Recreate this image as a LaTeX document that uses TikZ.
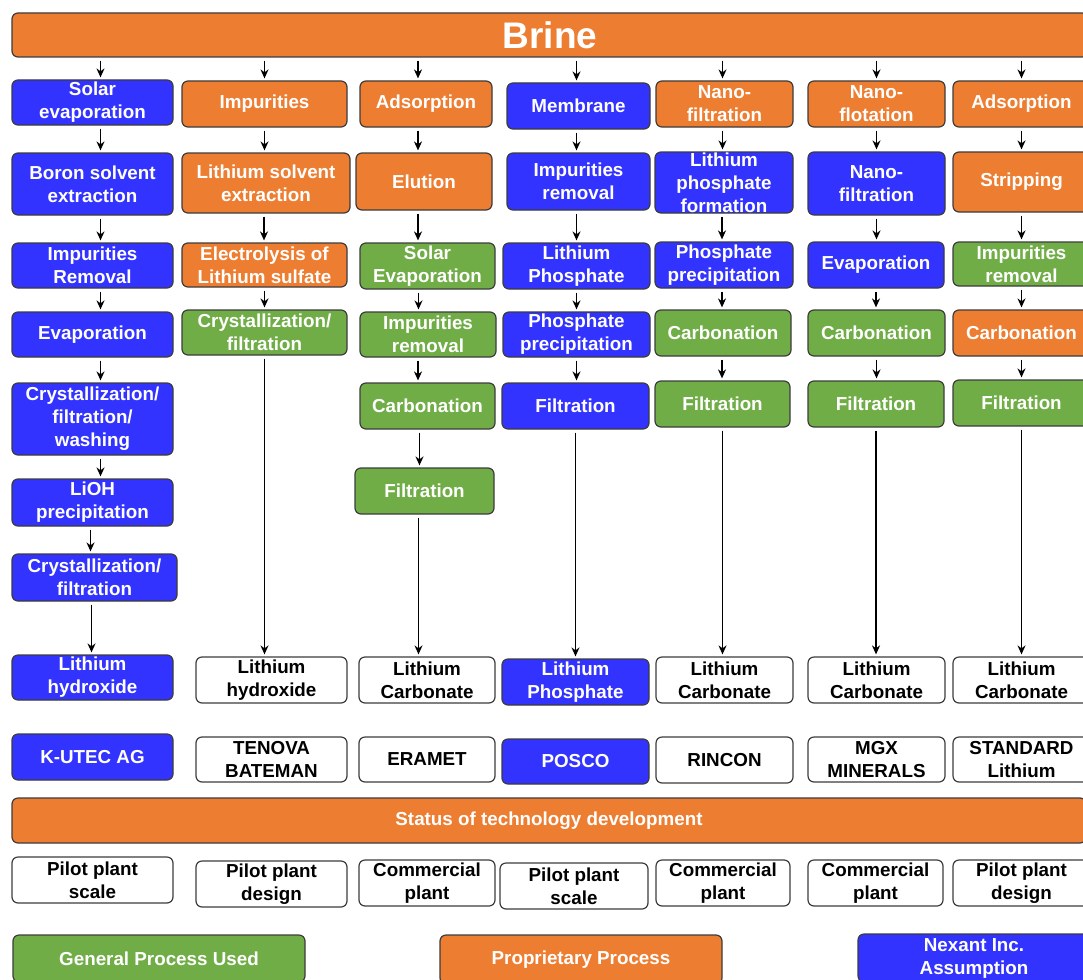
\documentclass[tikz,border=0pt]{standalone}
\usepackage{fontspec}
\setmainfont{Liberation Sans}
\usetikzlibrary{arrows.meta}
\definecolor{cor}{HTML}{ED7D31}
\definecolor{cbl}{HTML}{3333FF}
\definecolor{cgr}{HTML}{70AD47}
\definecolor{cbd}{HTML}{3C3C3C}
\tikzset{
  box/.style={draw=cbd, line width=1.2pt, rounded corners=6pt, inner sep=0pt, align=center,
    text=white, font=\bfseries\fontsize{18.8}{23}\selectfont},
  org/.style={fill=cor},
  blu/.style={fill=cbl},
  grn/.style={fill=cgr},
  wht/.style={fill=white, text=black},
  arr/.style={-{Stealth[length=9pt,width=8pt]}, line width=1.8pt, black, shorten >=2pt, shorten <=3pt},
}
\newcommand\B[7]{%
  \pgfmathsetmacro\bcx{(#2+#4)/2}\pgfmathsetmacro\bcy{(#3+#5)/2}%
  \pgfmathsetmacro\bxw{#4-#2}\pgfmathsetmacro\bxh{#5-#3}%
  \node[box,#6,minimum width=\bxw pt,minimum height=\bxh pt] (#1) at (\bcx,\bcy) {#7};}
\newcommand\Ar[3]{\draw[arr] ([xshift=#3pt]#1.south) -- ([xshift=#3pt]#1.south |- #2.north);}
\newcommand\Br[2]{\draw[arr] ([xshift=#2pt]#1.north |- brine.south) -- ([xshift=#2pt]#1.north);}
\begin{document}
\begin{tikzpicture}[x=1pt,y=-1pt]
\useasboundingbox (0,0) rectangle (1083,979);
\clip (0,0) rectangle (1083,979);
\fill[white] (0,0) rectangle (1083,979);

\B{brine}{12}{13}{1088}{57}{org,font=\bfseries\fontsize{37}{42}\selectfont}{Brine}

% column 1
\B{a1}{12}{80}{173}{125}{blu}{Solar\\evaporation}
\B{b1}{12}{153}{173}{215}{blu}{Boron solvent\\extraction}
\B{c1}{12}{243}{173}{288}{blu}{Impurities\\Removal}
\B{d1}{12}{312}{173}{357}{blu}{Evaporation}
\B{e1}{12}{383}{173}{455}{blu}{Crystallization/\\filtration/\\washing}
\B{f1}{12}{479}{173}{526}{blu}{LiOH\\precipitation}
\B{g1}{12}{554}{177}{601}{blu}{Crystallization/\\filtration}
\B{p1}{12}{655}{173}{700}{blu}{Lithium\\hydroxide}
\B{k1}{12}{734}{173}{780}{blu}{K-UTEC AG}

% column 2
\B{a2}{182}{81}{347}{127}{org}{Impurities}
\B{b2}{182}{153}{350}{213}{org}{Lithium solvent\\extraction}
\B{c2}{182}{243}{347}{287}{org}{Electrolysis of\\Lithium sulfate}
\B{d2}{182}{310}{347}{355}{grn}{Crystallization/\\filtration}
\B{p2}{196}{657}{347}{703}{wht}{Lithium\\hydroxide}
\B{k2}{196}{737}{347}{782}{wht}{TENOVA\\BATEMAN}

% column 3
\B{a3}{360}{81}{492}{127}{org}{Adsorption}
\B{b3}{356}{153}{492}{210}{org}{Elution}
\B{c3}{360}{243}{495}{289}{grn}{Solar\\Evaporation}
\B{d3}{360}{312}{496}{357}{grn}{Impurities\\removal}
\B{e3}{360}{383}{495}{429}{grn}{Carbonation}
\B{f3}{355}{468}{494}{514}{grn}{Filtration}
\B{p3}{359}{657}{495}{703}{wht}{Lithium\\Carbonate}
\B{k3}{359}{737}{495}{782}{wht}{ERAMET}

% column 4
\B{a4}{507}{83}{650}{129}{blu}{Membrane}
\B{b4}{507}{153}{650}{210}{blu}{Impurities\\removal}
\B{c4}{503}{243}{650}{289}{blu}{Lithium\\Phosphate}
\B{d4}{503}{312}{650}{357}{blu}{Phosphate\\precipitation}
\B{e4}{502}{383}{649}{429}{blu}{Filtration}
\B{p4}{502}{659}{649}{705}{blu}{Lithium\\Phosphate}
\B{k4}{502}{739}{649}{784}{blu}{POSCO}

% column 5
\B{a5}{656}{81}{793}{127}{org}{Nano-\\filtration}
\B{b5}{655}{152}{793}{213}{blu}{Lithium\\phosphate\\formation}
\B{c5}{655}{242}{793}{288}{blu}{Phosphate\\precipitation}
\B{d5}{655}{310}{791}{356}{grn}{Carbonation}
\B{e5}{655}{381}{790}{427}{grn}{Filtration}
\B{p5}{656}{657}{793}{703}{wht}{Lithium\\Carbonate}
\B{k5}{656}{737}{793}{783}{wht}{RINCON}

% column 6
\B{a6}{808}{81}{945}{127}{org}{Nano-\\flotation}
\B{b6}{808}{152}{945}{215}{blu}{Nano-\\filtration}
\B{c6}{808}{242}{944}{288}{blu}{Evaporation}
\B{d6}{808}{310}{945}{356}{grn}{Carbonation}
\B{e6}{808}{381}{944}{427}{grn}{Filtration}
\B{p6}{808}{657}{945}{703}{wht}{Lithium\\Carbonate}
\B{k6}{808}{737}{945}{782}{wht}{MGX\\MINERALS}

% column 7
\B{a7}{953}{81}{1090}{127}{org}{Adsorption}
\B{b7}{953}{152}{1090}{212}{org}{Stripping}
\B{c7}{953}{242}{1090}{286}{grn}{Impurities\\removal}
\B{d7}{953}{310}{1090}{356}{org}{Carbonation}
\B{e7}{953}{380}{1090}{426}{grn}{Filtration}
\B{p7}{953}{657}{1090}{703}{wht}{Lithium\\Carbonate}
\B{k7}{953}{737}{1090}{782}{wht}{STANDARD\\Lithium}

% status
\B{status}{12}{798}{1086}{843}{org}{Status of technology development}
\B{s1}{12}{857}{173}{903}{wht}{Pilot plant\\scale}
\B{s2}{196}{861}{347}{907}{wht}{Pilot plant\\design}
\B{s3}{359}{860}{495}{906}{wht}{Commercial\\plant}
\B{s4}{500}{863}{648}{909}{wht}{Pilot plant\\scale}
\B{s5}{656}{860}{790}{906}{wht}{Commercial\\plant}
\B{s6}{808}{860}{943}{906}{wht}{Commercial\\plant}
\B{s7}{953}{860}{1090}{906}{wht}{Pilot plant\\design}

% legend
\B{lg}{13}{935}{305}{982}{grn}{General Process Used}
\B{lo}{440}{935}{722}{984}{org}{Proprietary Process}
\B{lb}{858}{934}{1090}{982}{blu}{Nexant Inc.\\Assumption}

% arrows from brine
\Br{a1}{8}\Br{a2}{0}\Br{a3}{-8}\Br{a4}{-2}\Br{a5}{-2}\Br{a6}{0}\Br{a7}{0}
% column 1
\Ar{a1}{b1}{8}\Ar{b1}{c1}{8}\Ar{c1}{d1}{8}\Ar{d1}{e1}{8}\Ar{e1}{f1}{8}\Ar{f1}{g1}{-2}\Ar{g1}{p1}{-3}
% column 2
\Ar{a2}{b2}{0}\Ar{b2}{c2}{-2}\Ar{c2}{d2}{0}\Ar{d2}{p2}{0}
% column 3
\Ar{a3}{b3}{-8}\Ar{b3}{c3}{-6}\Ar{c3}{d3}{-9}\Ar{d3}{e3}{-10}\Ar{e3}{f3}{-8}\Ar{f3}{p3}{-6}
% column 4
\Ar{a4}{b4}{-2}\Ar{b4}{c4}{-2}\Ar{c4}{d4}{0}\Ar{d4}{e4}{0}\Ar{e4}{p4}{0}
% column 5
\Ar{a5}{b5}{-2}\Ar{b5}{c5}{-2}\Ar{c5}{d5}{-2}\Ar{d5}{e5}{-1}\Ar{e5}{p5}{0}
% column 6
\Ar{a6}{b6}{0}\Ar{b6}{c6}{0}\Ar{c6}{d6}{0}\Ar{d6}{e6}{0}\Ar{e6}{p6}{0}
% column 7
\Ar{a7}{b7}{0}\Ar{b7}{c7}{0}\Ar{c7}{d7}{0}\Ar{d7}{e7}{0}\Ar{e7}{p7}{0}
\end{tikzpicture}
\end{document}
